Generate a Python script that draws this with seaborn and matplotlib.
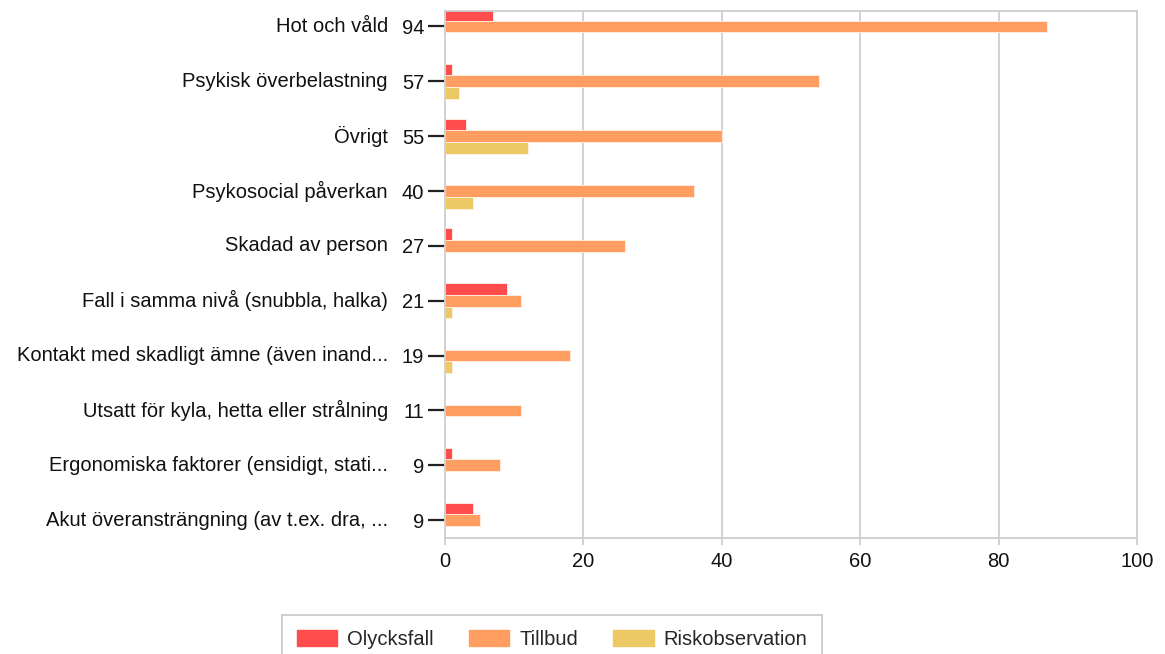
import pandas as pd
import seaborn as sns
import matplotlib.pyplot as plt
from matplotlib.transforms import blended_transform_factory

# Data
categories = [
    'Hot och våld',
    'Psykisk överbelastning',
    'Övrigt',
    'Psykosocial påverkan',
    'Skadad av person',
    'Fall i samma nivå (snubbla, halka)',
    'Kontakt med skadligt ämne (även inand...',
    'Utsatt för kyla, hetta eller strålning',
    'Ergonomiska faktorer (ensidigt, stati...',
    'Akut överansträngning (av t.ex. dra, ...',
]
olycksfall = [7, 1, 3, 0, 1, 9, 0, 0, 1, 4]
tillbud = [87, 54, 40, 36, 26, 11, 18, 11, 8, 5]
riskobservation = [0, 2, 12, 4, 0, 1, 1, 0, 0, 0]
series = ['Olycksfall', 'Tillbud', 'Riskobservation']
colors = ['#FF4D4D', '#FF9E60', '#ECC965']

totals = [a + b + c for a, b, c in zip(olycksfall, tillbud, riskobservation)]

df = pd.DataFrame({
    'kategori': categories * 3,
    'typ': [s for s in series for _ in categories],
    'antal': olycksfall + tillbud + riskobservation,
})

sns.set_style('white')
plt.rcParams['font.family'] = ['Liberation Sans', 'DejaVu Sans']
fs = 14.5

fig = plt.figure(figsize=(11.65, 6.54), dpi=100)
ax = fig.add_axes([0.382, 0.177, 0.594, 0.806])

sns.barplot(data=df, y='kategori', x='antal', hue='typ', order=categories,
            hue_order=series, palette=colors, orient='h', width=0.64,
            saturation=1, edgecolor='#FFF1E6', linewidth=0.6, ax=ax,
            legend=False)

ax.set_xlim(0, 100)
ax.set_ylim(9.33, -0.28)
ax.set_xticks([0, 20, 40, 60, 80, 100])
ax.grid(axis='x', color='#CFCFCF', linewidth=1.3)
ax.set_axisbelow(True)
for side in ['top', 'right', 'bottom', 'left']:
    ax.spines[side].set_color('#CFCFCF')
    ax.spines[side].set_linewidth(1.3)

ax.set_xlabel('')
ax.set_ylabel('')
ax.set_yticks(range(len(categories)))
ax.set_yticklabels([str(t) for t in totals])
ax.tick_params(axis='y', left=True, length=12, width=1.6, color='#222222',
               pad=3, labelsize=fs, labelcolor='#111111')
ax.tick_params(axis='x', bottom=True, length=5, width=1.3, color='#CFCFCF',
               pad=5, labelsize=fs, labelcolor='#111111')

# category names left of the totals
trans = blended_transform_factory(fig.transFigure, ax.transData)
for i, name in enumerate(categories):
    ax.text(388 / 1165, i, name, transform=trans, ha='right', va='center',
            fontsize=fs, color='#111111')

# Legend
handles = [plt.Rectangle((0, 0), 1, 1, color=c) for c in colors]
leg = fig.legend(handles, series, loc='upper center', ncol=3,
                 bbox_to_anchor=(552 / 1165, 1 - 615 / 654), frameon=True,
                 fancybox=False, fontsize=fs, handlelength=2.0,
                 handleheight=0.8, columnspacing=1.75, handletextpad=0.5,
                 borderpad=0.75, borderaxespad=0)
leg.get_frame().set_edgecolor('#BDBDBD')
leg.get_frame().set_linewidth(1.3)

fig.savefig('out.png', dpi=100)
